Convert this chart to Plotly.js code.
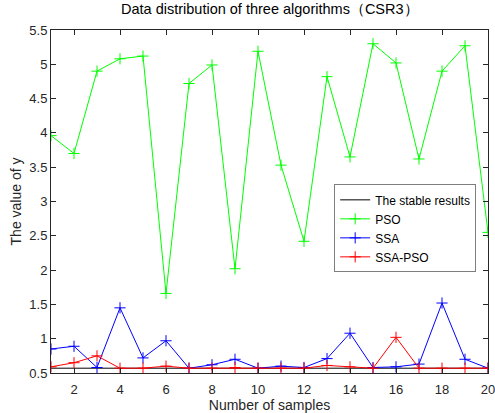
<!DOCTYPE html>
<html>
<head>
<meta charset="utf-8">
<script src="https://cdn.plot.ly/plotly-3.0.1.min.js"></script>
<style>html,body{margin:0;padding:0;background:#fff;}#chart{width:495px;height:413px;}</style>
</head>
<body>
<div id="chart"></div>
<script>
var samples = [1,2,3,4,5,6,7,8,9,10,11,12,13,14,15,16,17,18,19,20];
var stable = [0.57,0.57,0.57,0.57,0.57,0.57,0.57,0.57,0.57,0.57,0.57,0.57,0.57,0.57,0.57,0.57,0.57,0.57,0.57,0.57];
var pso = [3.96,3.70,4.90,5.08,5.12,1.66,4.72,4.99,2.02,5.19,3.53,2.42,4.82,3.65,5.30,5.02,3.62,4.90,5.27,2.55];
var ssa = [0.85,0.89,0.58,1.45,0.72,0.97,0.57,0.62,0.70,0.57,0.60,0.58,0.71,1.08,0.58,0.59,0.63,1.52,0.70,0.57];
var ssapso = [0.59,0.65,0.75,0.57,0.57,0.60,0.57,0.57,0.58,0.57,0.57,0.57,0.61,0.59,0.57,1.02,0.57,0.57,0.57,0.57];
var xTicks = [2,4,6,8,10,12,14,16,18,20];
var yTicks = [0.5,1,1.5,2,2.5,3,3.5,4,4.5,5,5.5];

var mk = function(c){return {symbol:'cross-thin-open', size:8, line:{color:c, width:1}, color:c};};
var traces = [
  {x:samples, y:stable, name:'The stable results', mode:'lines', line:{color:'#000000', width:1}},
  {x:samples, y:pso, name:'PSO', mode:'lines+markers', line:{color:'#00ff00', width:1}, marker:mk('#00ff00')},
  {x:samples, y:ssa, name:'SSA', mode:'lines+markers', line:{color:'#0000ff', width:1}, marker:mk('#0000ff')},
  {x:samples, y:ssapso, name:'SSA-PSO', mode:'lines+markers', line:{color:'#ff0000', width:1}, marker:mk('#ff0000')}
];
var ff = 'Liberation Sans, Arial, sans-serif';
var layout = {
  width:495, height:413,
  margin:{l:51, r:7, t:30, b:40},
  paper_bgcolor:'#ffffff', plot_bgcolor:'#ffffff',
  font:{family:ff, size:13, color:'#262626'},
  showlegend:true,
  title:{text:'Data distribution of three algorithms（CSR3）', font:{family:ff, size:14.5, color:'#000'}, x:0.545, xanchor:'center', y:0.99, yanchor:'top'},
  xaxis:{range:[1,20], tickvals:xTicks, ticktext:xTicks.map(String), ticks:'inside', ticklen:5, tickcolor:'#262626',
    tickfont:{size:13}, ticklabelstandoff:4, ticklabeloverflow:'allow',
    showline:true, linecolor:'#262626', linewidth:1, mirror:'ticks', showgrid:false, zeroline:false,
    title:{text:'Number of samples', font:{size:14, color:'#262626'}, standoff:5}},
  yaxis:{range:[0.5,5.5], tickvals:yTicks, ticktext:yTicks.map(String), ticks:'inside', ticklen:5, tickcolor:'#262626',
    tickfont:{size:13}, ticklabeloverflow:'allow',
    showline:true, linecolor:'#262626', linewidth:1, mirror:'ticks', showgrid:false, zeroline:false,
    title:{text:'The value of y', font:{size:14, color:'#262626'}, standoff:4}},
  legend:{x:0.648, y:0.55, xanchor:'left', yanchor:'top', bgcolor:'#ffffff', bordercolor:'#7f7f7f', borderwidth:1,
    font:{family:ff, size:12, color:'#000'}, tracegroupgap:0, itemwidth:30}
};
Plotly.newPlot('chart', traces, layout, {displayModeBar:false, staticPlot:true});
</script>
</body>
</html>
